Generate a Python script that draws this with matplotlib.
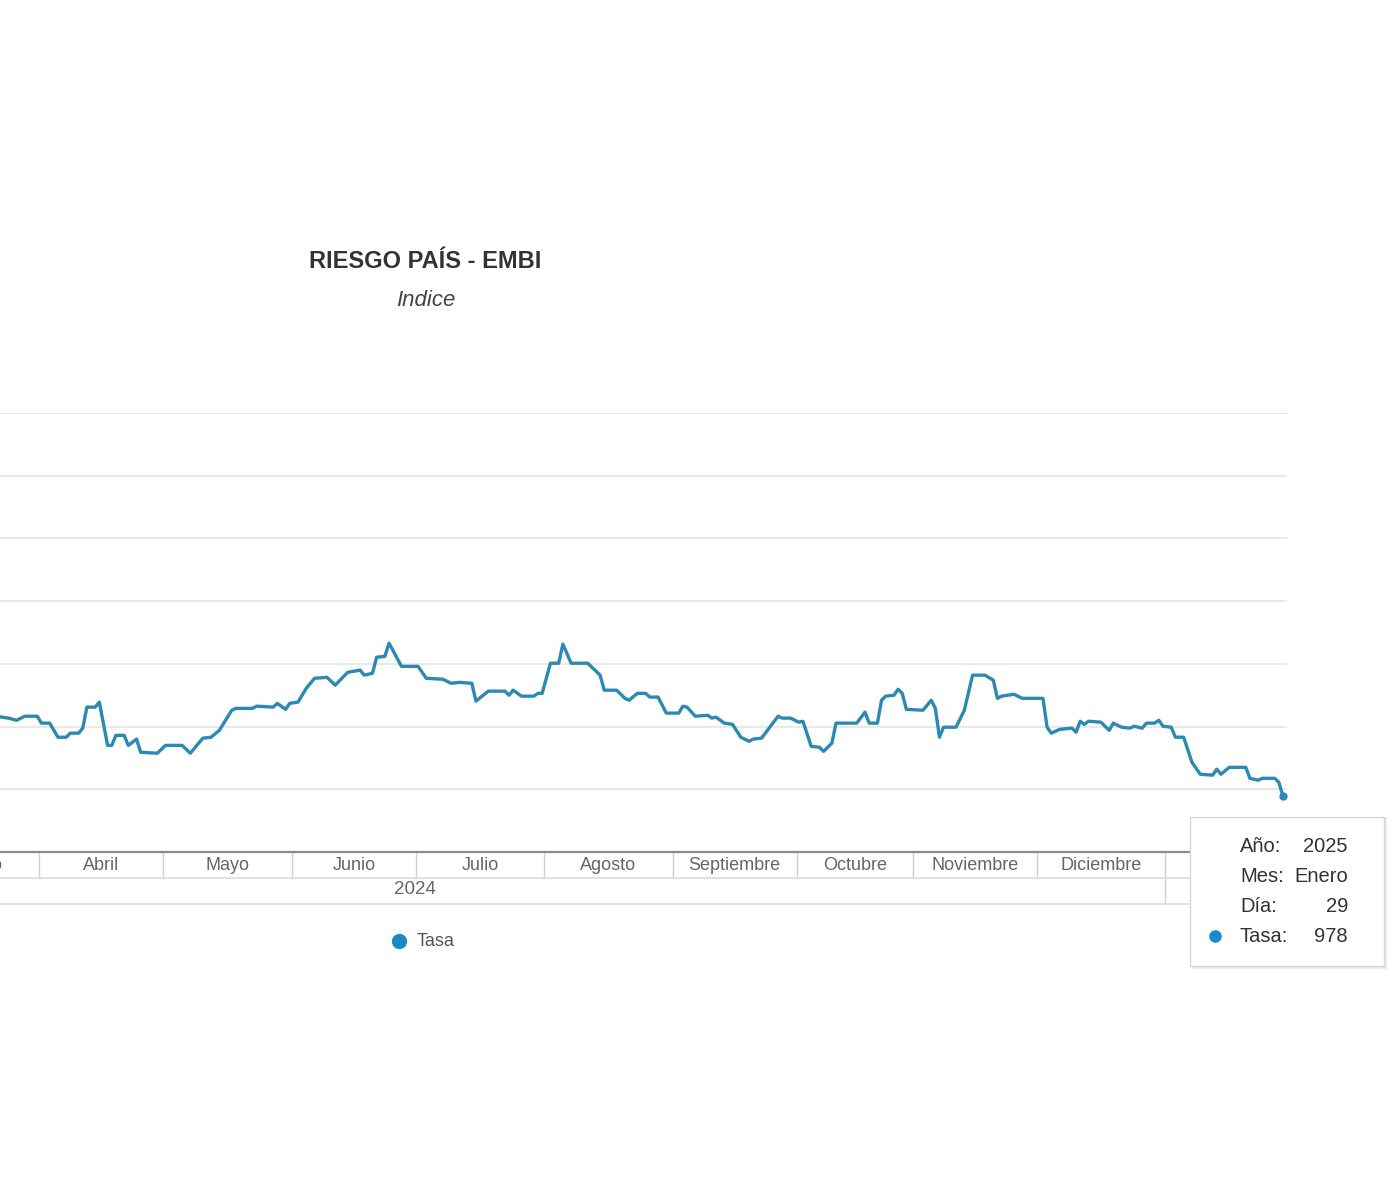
import matplotlib
matplotlib.use("Agg")
import numpy as np
import matplotlib.pyplot as plt
from matplotlib.patches import Rectangle
from matplotlib.transforms import blended_transform_factory

plt.rcParams['font.family'] = ['Liberation Sans', 'DejaVu Sans']

# position on the category axis (one slot per published day) and EMBI value
obs = [0, 2, 4, 6, 9, 10, 12, 14, 16, 17, 19, 20, 21, 23, 24, 26, 27, 28, 30, 31,
       33, 34, 38, 40, 44, 46, 49, 51, 53, 56, 57, 61, 62, 66, 67, 69, 70, 72, 74, 76,
       79, 81, 84, 87, 88, 90, 91, 93, 94, 97, 101, 103, 107, 109, 111, 114, 115, 118, 122, 123,
       124, 126, 129, 130, 131, 133, 135, 136, 138, 142, 145, 146, 149, 151, 152, 154, 156, 157, 159, 161,
       164, 165, 166, 168, 171, 172, 173, 175, 177, 179, 181, 182, 184, 188, 189, 191, 193, 194, 196, 198,
       199, 201, 202, 207, 209, 210, 212, 213, 214, 216, 217, 218, 219, 223, 225, 226, 227, 228, 231, 233,
       235, 238, 240, 241, 242, 245, 247, 252, 253, 254, 256, 259, 260, 261, 262, 263, 266, 268, 269, 271,
       273, 274, 276, 277, 279, 280, 281, 283, 284, 286, 288, 290, 293, 294, 295, 297, 301, 302, 304, 305,
       308, 309, 310]
tasa = [1231, 1227, 1220, 1233, 1233, 1211, 1211, 1166, 1166, 1179, 1179, 1195, 1262, 1262, 1278, 1140, 1140, 1172, 1172, 1140,
        1160, 1118, 1115, 1140, 1140, 1115, 1163, 1166, 1188, 1252, 1258, 1258, 1265, 1262, 1274, 1255, 1274, 1278, 1322, 1354,
        1357, 1332, 1373, 1380, 1364, 1370, 1421, 1424, 1466, 1392, 1392, 1354, 1351, 1338, 1341, 1338, 1281, 1313, 1313, 1300,
        1316, 1297, 1297, 1306, 1306, 1402, 1402, 1463, 1402, 1402, 1364, 1316, 1316, 1290, 1284, 1306, 1306, 1294, 1294, 1243,
        1243, 1265, 1262, 1233, 1236, 1227, 1230, 1211, 1207, 1166, 1153, 1160, 1163, 1233, 1227, 1227, 1214, 1217, 1137, 1134,
        1121, 1147, 1211, 1211, 1246, 1211, 1211, 1284, 1297, 1300, 1319, 1306, 1255, 1252, 1284, 1258, 1166, 1198, 1198, 1252,
        1364, 1364, 1348, 1290, 1297, 1303, 1290, 1290, 1198, 1179, 1191, 1195, 1182, 1217, 1207, 1217, 1214, 1188, 1211, 1198,
        1195, 1201, 1195, 1211, 1211, 1220, 1201, 1198, 1166, 1166, 1086, 1048, 1045, 1064, 1048, 1070, 1070, 1035, 1029, 1035,
        1035, 1022, 978]

meses = ['Marzo', 'Abril', 'Mayo', 'Junio', 'Julio', 'Agosto', 'Septiembre',
         'Octubre', 'Noviembre', 'Diciembre', 'Enero']
puntos_mes = [10, 30, 31, 30, 31, 31, 30, 28, 30, 31, 29]
grid_vals = [1000, 1200, 1400, 1600, 1800, 2000, 2200]

tooltip_rows = [('Año:', '2025'), ('Mes:', 'Enero'), ('Día:', '29'), ('Tasa:', '978')]

W, H = 1400, 1200
fig = plt.figure(figsize=(W / 100, H / 100), dpi=100)


def fx(px):
    return px / W


def fy(py):
    return 1 - py / H


line_col = '#2c8ab2'
dot_col = '#1a8ac6'

ax = fig.add_axes([0, fy(852), fx(1287), fy(413) - fy(852)])
ax.set_xlim(0, obs[-1] * 1287 / 1283)
ax.set_ylim(800, 2200)
ax.set_yticks(grid_vals)
ax.set_xticks([])
ax.tick_params(left=False, labelleft=False)
ax.grid(axis='y', color='#e3e3e3', lw=1.1)
ax.set_axisbelow(True)
for s in ['left', 'right', 'top']:
    ax.spines[s].set_visible(False)
ax.spines['bottom'].set_color('#8c8c8c')
ax.spines['bottom'].set_linewidth(1.6)

ax.plot(obs, tasa, color=line_col, lw=2.4, solid_joinstyle='round', zorder=3)
ax.plot(obs[-1], tasa[-1], 'o', ms=5, color=line_col, zorder=4)

# category header (months / year)
trans = blended_transform_factory(ax.transData, fig.transFigure)
bounds = np.cumsum(puntos_mes) - 0.5
starts = np.concatenate([[-20.5], bounds[:-1]])
for name, a, b in zip(meses, starts, bounds):
    ax.text((a + b) / 2, fy(865), name, transform=trans, ha='center', va='center',
            fontsize=13, color='#666666', clip_on=False)
for b in bounds[:-2]:
    ax.plot([b, b], [fy(853), fy(878)], transform=trans, color='#d0d0d0', lw=1, clip_on=False)
ax.plot([bounds[-2]] * 2, [fy(853), fy(904)], transform=trans, color='#d0d0d0', lw=1, clip_on=False)
for yy in [878, 904]:
    fig.add_artist(plt.Line2D([0, fx(1287)], [fy(yy), fy(yy)], color='#dcdcdc', lw=1.2))
fig.text(fx(415), fy(889), '2024', ha='center', va='center', fontsize=13.5, color='#666666')

# titles
fig.text(fx(425), fy(261), 'RIESGO PAÍS - EMBI', ha='center', va='center',
         fontsize=17, fontweight='bold', color='#333333')
fig.text(fx(426), fy(301), 'Indice', ha='center', va='center',
         fontsize=16, fontstyle='italic', color='#444444')

# legend
fig.add_artist(plt.Line2D([fx(399)], [fy(941)], marker='o', ms=10, color=dot_col, lw=0))
fig.text(fx(417), fy(942), 'Tasa', ha='left', va='center', fontsize=13, color='#555555')

# tooltip
fig.add_artist(Rectangle((fx(1193), fy(969)), fx(194), (969 - 817) / H,
                         transform=fig.transFigure, facecolor='#000000', alpha=0.08,
                         edgecolor='none', zorder=9))
fig.add_artist(Rectangle((fx(1190), fy(966)), fx(194), (966 - 817) / H,
                         transform=fig.transFigure, facecolor='white',
                         edgecolor='#d6d6d6', lw=1, zorder=10))
for i, (lab, val) in enumerate(tooltip_rows):
    yy = fy(847 + i * 30)
    fig.text(fx(1240), yy, lab, ha='left', va='center', fontsize=14.5, color='#333333', zorder=11)
    fig.text(fx(1348), yy, val, ha='right', va='center', fontsize=14.5, color='#333333', zorder=11)
fig.add_artist(plt.Line2D([fx(1215)], [fy(936)], marker='o', ms=8, color=dot_col, lw=0, zorder=11))

fig.savefig('out.png', dpi=100, facecolor='white')
